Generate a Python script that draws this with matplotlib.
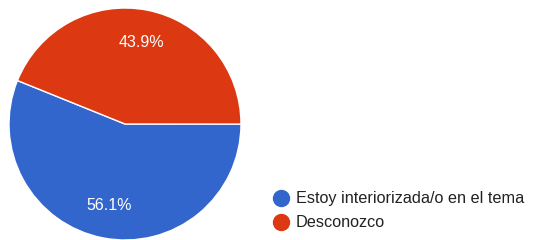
import matplotlib
matplotlib.use("Agg")
import matplotlib.pyplot as plt
from matplotlib.lines import Line2D

labels = ["Estoy interiorizada/o en el tema", "Desconozco"]
values = [56.1, 43.9]
colors = ["#3366cc", "#dc3912"]

plt.rcParams["font.family"] = ["Liberation Sans", "DejaVu Sans"]

W, H = 534, 240
fig = plt.figure(figsize=(W / 100, H / 100), dpi=100)
ax = fig.add_axes([9 / W, 0 / H, 232 / W, 232 / H])
wedges, texts, autotexts = ax.pie(
    values, colors=colors, startangle=158, counterclock=True,
    autopct="%.1f%%", pctdistance=0.72,
    wedgeprops=dict(edgecolor="white", linewidth=1),
    textprops=dict(color="white", fontsize=11.5))
ax.set_xlim(-1, 1)
ax.set_ylim(-1, 1)
ax.set_aspect("equal")

handles = [Line2D([], [], marker="o", ls="", markersize=11.5, color=c) for c in colors]
fig.legend(handles, labels, loc="upper left", bbox_to_anchor=(266 / W, 1 - 185 / H),
           frameon=False, fontsize=11.7, handletextpad=0.45, labelspacing=0.55,
           handlelength=1.0, labelcolor="#222222", borderaxespad=0)

fig.savefig("out.png", dpi=100)
